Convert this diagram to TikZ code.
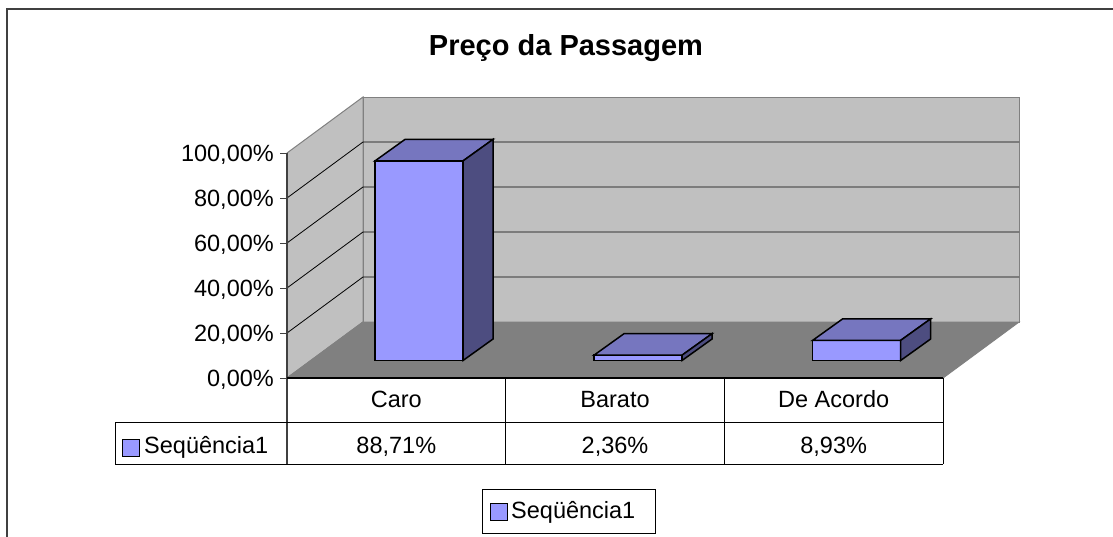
\documentclass[tikz,border=0pt]{standalone}
\usepackage{fontspec}
\setmainfont{Liberation Sans}
\definecolor{wallgray}{RGB}{192,192,192}
\definecolor{floorgray}{RGB}{128,128,128}
\definecolor{edgegray}{RGB}{128,128,128}
\definecolor{framegray}{RGB}{64,64,64}
\definecolor{barfront}{RGB}{153,153,255}
\definecolor{bartop}{RGB}{118,118,191}
\definecolor{barside}{RGB}{77,77,128}
\newcommand\chartbar[2]{%
  \begin{scope}[shift={(#1,360.5)}]
    \filldraw[barface, fill=barfront] (0,0) rectangle (88,{-#2});
    \filldraw[barface, fill=bartop] (0,{-#2}) -- (30,{-#2-21.5}) -- (118,{-#2-21.5}) -- (88,{-#2}) -- cycle;
    \filldraw[barface, fill=barside] (88,{-#2}) -- (118,{-#2-21.5}) -- (118,-21.5) -- (88,0) -- cycle;
  \end{scope}}
\begin{document}
\begin{tikzpicture}[x=1pt,y=-1pt,
  lbl/.style={font=\fontsize{23.5}{28}\selectfont, inner sep=0pt},
  ttl/.style={font=\fontsize{29}{34}\selectfont\bfseries, inner sep=0pt},
  barface/.style={draw=black, line width=1.5pt, line join=miter},
  wall/.style={fill=wallgray, draw=edgegray, line width=1pt},
  grid/.style={draw=black, line width=0.8pt},
  tbl/.style={draw=black, line width=1pt},
  key/.style={fill=barfront, draw=black, line width=1pt}]
\useasboundingbox (0,0) rectangle (1113,536);
\fill[white] (0,0) rectangle (1113,536);
% outer frame
\draw[framegray, line width=2pt] (7,540) -- (7,9) -- (1120,9);
% title
\node[ttl, anchor=base] (title) at (566,55) {Preço da Passagem};
% walls
\filldraw[wall] (287,153) -- (363,97) -- (363,322) -- (287,378) -- cycle;
\filldraw[wall] (363,97) rectangle (1019,322);
\filldraw[fill=floorgray, draw=edgegray, line width=1pt] (287,378) -- (363,322) -- (1019,322) -- (943,378) -- cycle;
% gridlines
\foreach \k in {1,2,3,4} {
  \draw[grid] (287,{378-45*\k}) -- (363,{322-45*\k}) -- (1019,{322-45*\k});
}
% axis, ticks and labels
\draw[draw=framegray, line width=1.2pt] (287,153) -- (287,464);
\foreach \k/\t in {0/{0,00\%},1/{20,00\%},2/{40,00\%},3/{60,00\%},4/{80,00\%},5/{100,00\%}} {
  \draw[draw=framegray, line width=1pt] (280,{378-45*\k}) -- (287,{378-45*\k});
  \node[lbl, anchor=base east] (y\k) at (274,{378-45*\k+8}) {\t};
}
% bars
\chartbar{375}{199.6}
\chartbar{594}{5.3}
\chartbar{812.6}{20.1}
% data table
\draw[tbl, line width=1.3pt] (287,378) -- (943,378);
\draw[tbl] (115,422) -- (943,422);
\draw[tbl] (115,464) -- (943,464);
\draw[tbl] (115,422) -- (115,464);
\draw[tbl] (505.7,378) -- (505.7,464);
\draw[tbl] (724.3,378) -- (724.3,464);
\draw[tbl] (943,378) -- (943,464);
\node[lbl, anchor=base] (c1) at (396.3,407) {Caro};
\node[lbl, anchor=base] (c2) at (615,407) {Barato};
\node[lbl, anchor=base] (c3) at (833.7,407) {De Acordo};
\node[lbl, anchor=base] (v1) at (396.3,453) {88,71\%};
\node[lbl, anchor=base] (v2) at (615,453) {2,36\%};
\node[lbl, anchor=base] (v3) at (833.7,453) {8,93\%};
\filldraw[key] (122,439) rectangle (139,456);
\node[lbl, anchor=base west] (tser) at (144,453) {Seqüência1};
% legend
\draw[tbl] (482,489) rectangle (655,533);
\filldraw[key] (490,503) rectangle (507,520);
\node[lbl, anchor=base west] (lser) at (511,518) {Seqüência1};
\end{tikzpicture}
\end{document}
